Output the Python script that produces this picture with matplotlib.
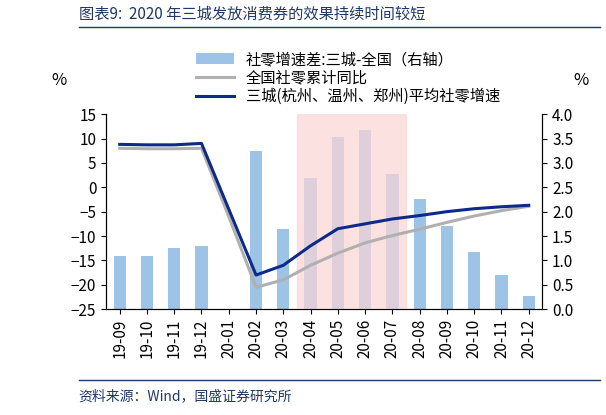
import numpy as np
import matplotlib
matplotlib.use("Agg")
import matplotlib.pyplot as plt

plt.rcParams['font.family'] = ['Noto Sans CJK SC', 'DejaVu Sans']

months = ["19-09", "19-10", "19-11", "19-12", "20-01", "20-02", "20-03", "20-04",
          "20-05", "20-06", "20-07", "20-08", "20-09", "20-10", "20-11", "20-12"]
gap_right = [1.1, 1.1, 1.25, 1.3, np.nan, 3.25, 1.65, 2.7,
             3.53, 3.68, 2.78, 2.25, 1.7, 1.18, 0.7, 0.27]
national = [8.0, 7.9, 7.9, 8.0, -6.0, -20.5, -19.0, -16.0,
            -13.5, -11.4, -9.9, -8.6, -7.2, -5.9, -4.8, -3.9]
three_city = [8.8, 8.7, 8.7, 9.0, -4.5, -18.0, -16.0, -12.0,
              -8.5, -7.5, -6.5, -5.8, -5.0, -4.4, -4.0, -3.7]

fig = plt.figure(figsize=(6.06, 4.15), dpi=100)
ax = fig.add_axes([0.175, 0.255, 0.72, 0.47])
ax2 = ax.twinx()
x = np.arange(len(months))

ax.axvspan(6.5, 10.5, color="#fbd5d5", alpha=0.7, zorder=0)
b = ax2.bar(x, gap_right, width=0.45, color="#9dc3e6", label="社零增速差:三城-全国（右轴）", zorder=1)
l1, = ax.plot(x, national, color="#b0b0b0", lw=2.2, label="全国社零累计同比", zorder=3)
l2, = ax.plot(x, three_city, color="#0d2a8a", lw=2.2, label="三城(杭州、温州、郑州)平均社零增速", zorder=4)
ax.set_zorder(ax2.get_zorder() + 1)
ax.patch.set_visible(False)

ax.set_ylim(-25, 15)
ax.set_yticks(range(-25, 16, 5))
ax2.set_ylim(0, 4)
ax2.set_yticks(np.arange(0, 4.01, 0.5))
ax2.set_yticklabels([f"{v:.1f}" for v in np.arange(0, 4.01, 0.5)])
ax.set_xlim(-0.5, len(months) - 0.5)
ax.set_xticks(x)
ax.set_xticklabels(months, rotation=90, fontsize=11)
ax.tick_params(labelsize=11)
ax2.tick_params(labelsize=11)
for a in (ax, ax2):
    a.spines["top"].set_visible(False)
ax.text(-0.09, 1.15, "%", transform=ax.transAxes, fontsize=12, ha="right")
ax2.text(1.07, 1.15, "%", transform=ax.transAxes, fontsize=12, ha="left")

fig.legend(handles=[b, l1, l2], loc="upper left", bbox_to_anchor=(0.3, 0.91),
           frameon=False, fontsize=11, handlelength=2.5, labelspacing=0.1)

fig.text(0.13, 0.955, "图表9:  2020 年三城发放消费券的效果持续时间较短", fontsize=11,
         style="italic", color="#1f3864")
fig.add_artist(plt.Line2D([0.13, 0.99], [0.935, 0.935], color="#1f3864", lw=1))
fig.add_artist(plt.Line2D([0.13, 0.99], [0.085, 0.085], color="#1f3864", lw=1))
fig.text(0.13, 0.035, "资料来源：Wind，国盛证券研究所", fontsize=10, style="italic", color="#1f3864")

fig.savefig("out.png", dpi=100)
